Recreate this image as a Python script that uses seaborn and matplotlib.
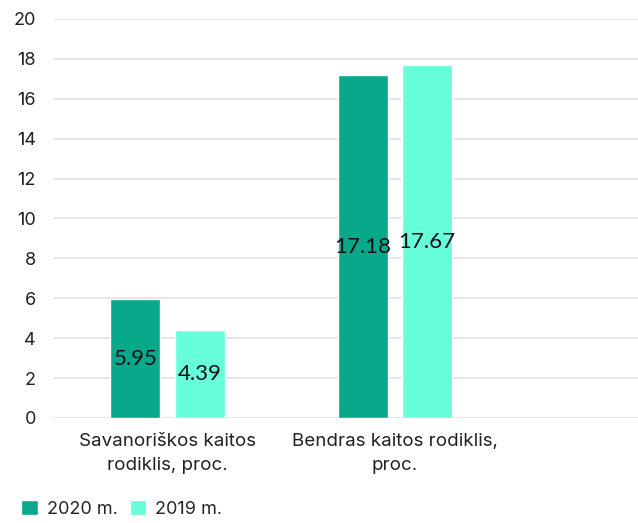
import matplotlib
matplotlib.use('Agg')
import matplotlib.pyplot as plt
from matplotlib.patches import Patch
import pandas as pd
import seaborn as sns

categories = ['Savanoriškos kaitos\nrodiklis, proc.', 'Bendras kaitos rodiklis,\nproc.']
series = ['2020 m.', '2019 m.']
values_2020 = [5.95, 17.18]
values_2019 = [4.39, 17.67]
colors = ['#08a88a', '#66ffda']

df = pd.DataFrame({
  'cat': categories * 2,
  'year': [series[0]] * 2 + [series[1]] * 2,
  'val': values_2020 + values_2019,
})

sns.set_style('white')
plt.rcParams['font.family'] = ['Inter', 'DejaVu Sans']

fig = plt.figure(figsize=(6.38, 5.23), dpi=100)
ax = fig.add_axes([54 / 638, 1 - 418 / 523, 1 - 54 / 638, (418 - 19) / 523])

sns.barplot(data=df, x='cat', y='val', hue='year', palette=colors, ax=ax,
            width=0.568, gap=0.225, saturation=1, legend=False)

for c in ax.containers:
  ax.bar_label(c, fmt='%.2f', label_type='center', fontsize=16, color='#111111',
               family=['Lato', 'DejaVu Sans'])

ax.set_xlim(-0.5, 2.07)
ax.set_ylim(0, 20)
ax.set_yticks(range(0, 21, 2))
ax.set_xlabel('')
ax.set_ylabel('')
ax.grid(axis='y', color='#e2e2e2', linewidth=1.2)
ax.set_axisbelow(True)
for s in ax.spines.values():
  s.set_visible(False)
ax.tick_params(axis='y', length=0, pad=13, labelsize=13, labelcolor='#222222')
ax.tick_params(axis='x', length=0, pad=11, labelsize=13.5, labelcolor='#222222')
for t in ax.get_xticklabels():
  t.set_linespacing(1.5)

handles = [Patch(facecolor=colors[i], label=series[i]) for i in range(2)]
fig.legend(handles=handles, loc='lower left', bbox_to_anchor=(0.022, -0.004), ncol=2,
           frameon=False, fontsize=13, handlelength=0.9, handleheight=0.9,
           handletextpad=0.5, columnspacing=0.7, borderaxespad=0)

fig.savefig('out.png', dpi=100)
